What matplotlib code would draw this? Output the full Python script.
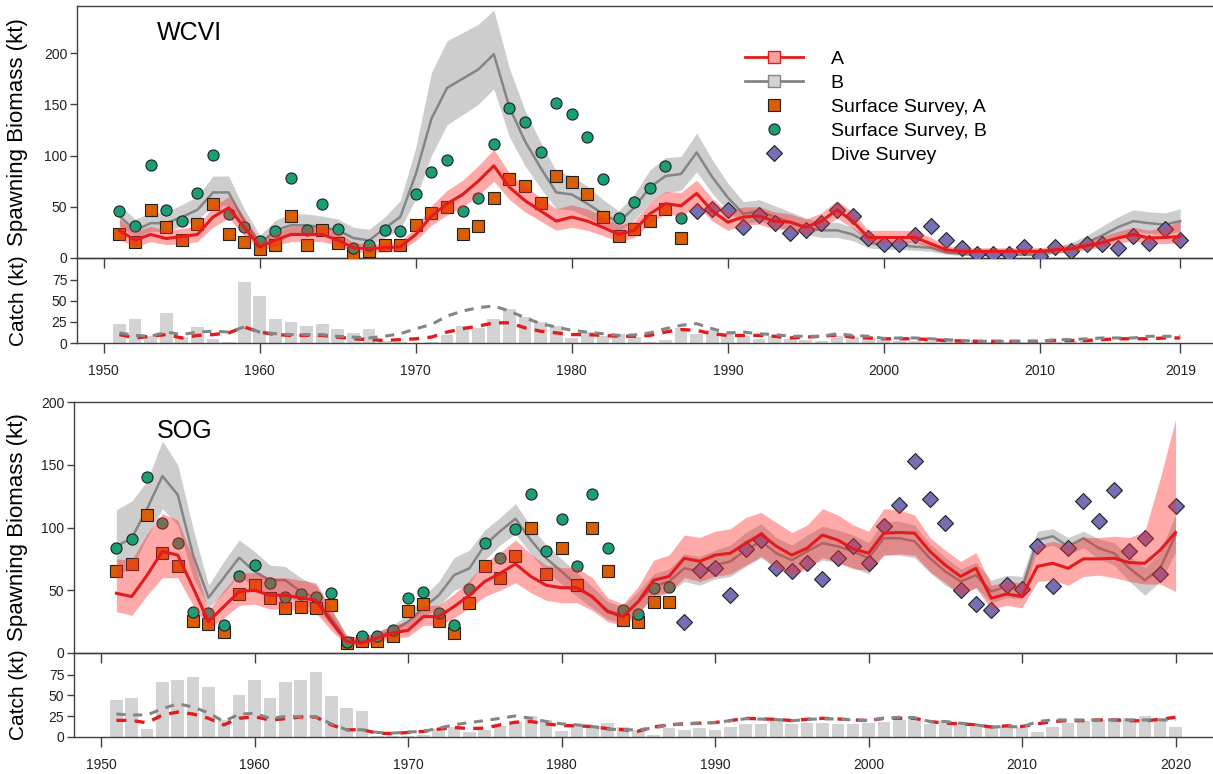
import matplotlib.pyplot as plt
from matplotlib.lines import Line2D

plt.rcParams['font.family'] = ['Liberation Sans', 'DejaVu Sans']

# ---------------- WCVI (1951-2019) ----------------
wcvi_years = list(range(1951, 2020))
wcvi_a_mid = [27, 17.5, 23, 19, 21, 23, 40, 49, 30, 11,
              17.5, 23, 23, 23, 17.5, 10, 9, 10, 11, 23,
              41, 53, 62, 75, 90, 69, 56, 46, 36, 40,
              36, 30, 23, 27, 43, 53, 51, 63, 46, 35,
              40, 41, 36, 35, 30, 36, 47, 36, 20, 20,
              20, 20, 14, 8, 6.5, 6.5, 6.5, 6.5, 6.5, 6.5,
              8, 9, 12, 15, 19.5, 23, 19.5, 20, 21]
wcvi_a_hi = [38, 26, 31, 27, 29, 31, 50, 60, 40, 17,
             25, 31, 31, 31, 25, 15, 14, 15, 16, 30,
             51, 66, 76, 90, 106, 83, 70, 59, 48, 52,
             48, 41, 32, 36, 54, 65, 64, 76, 58, 45,
             50, 50, 45, 43, 38, 44, 56, 45, 27, 27,
             27, 27, 20, 12, 10, 10, 10, 10, 10, 10,
             12, 13, 17, 21, 26, 30, 27, 30, 36]
wcvi_a_lo = [18, 11, 16, 13, 14, 16, 30, 39, 22, 7,
             12, 16, 16, 16, 12, 6, 5.5, 6, 7, 17,
             32, 42, 50, 61, 75, 57, 45, 36, 27, 30,
             27, 22, 16, 20, 34, 43, 41, 51, 36, 27,
             32, 33, 28, 28, 23, 29, 39, 29, 15, 15,
             15, 15, 10, 5, 4, 4, 4, 4, 4, 4,
             5, 6, 8, 11, 14, 17, 14, 14, 15]
wcvi_b_mid = [41, 27, 34, 34, 40, 47, 64, 64, 36, 14,
              27, 32, 32, 30, 27, 19.5, 17, 29, 40, 82,
              136, 166, 175, 184, 199, 147, 114, 88, 64, 62,
              53, 43, 35, 49, 69, 80, 82, 103, 79, 59,
              43, 46, 40, 35, 30, 27, 27, 23, 15, 12.7,
              12.7, 11, 10, 5.5, 4, 3.3, 3.3, 3.3, 3.3, 3.3,
              7, 10, 15, 22, 30, 36, 34, 32.5, 36]
wcvi_b_hi = [52, 38, 44, 45, 52, 60, 80, 80, 48, 22,
             37, 43, 43, 41, 38, 30, 28, 40, 56, 108,
             181, 212, 220, 228, 242, 185, 144, 113, 85, 80,
             70, 57, 46, 62, 86, 98, 99, 122, 96, 73,
             55, 57, 51, 45, 39, 35, 35, 30, 21, 18,
             18, 16, 14, 8.5, 6.5, 5.5, 5.5, 5.5, 5.5, 5.5,
             11, 15, 22, 31, 40, 47, 45, 44, 48]
wcvi_b_lo = [32, 20, 26, 26, 31, 37, 51, 51, 27, 9,
             20, 24, 24, 22, 20, 13, 11, 20, 28, 58,
             100, 130, 140, 150, 165, 118, 90, 68, 48, 47,
             40, 32, 26, 37, 54, 64, 66, 84, 63, 46,
             33, 36, 31, 27, 23, 20, 20, 17, 10, 8.5,
             8.5, 7.5, 6.5, 3.5, 2.5, 2, 2, 2, 2, 2,
             4.5, 6.5, 10, 15, 21, 26, 24, 23, 26]

wcvi_surf_years = list(range(1951, 1988))
wcvi_surf_a = [23, 16, 47, 30, 18, 33, 53, 23, 16, 9,
               13, 41, 13, 27, 15, 5, 6.5, 13, 13, 32,
               44, 50, 23, 31, 59, 77, 70, 54, 80, 74,
               62, 40, 21, 28, 36, 48, 20]
wcvi_surf_b = [45.5, 31, 91, 47, 36, 63, 101, 43, 30, 17,
               26, 78, 27, 53, 28, 9.5, 13, 27, 26, 62,
               84, 96, 45.5, 59, 111, 146, 133, 103, 151, 141,
               118, 77, 39, 55, 68, 90, 39]
wcvi_dive_years = list(range(1988, 2020))
wcvi_dive = [46, 48, 47, 30, 42, 34, 24.5, 27, 34, 47,
             41, 20, 13.6, 13.6, 22, 31.5, 17.5, 10, 4, 4,
             4, 11, 2, 11, 6.5, 14, 14, 10, 21, 15,
             28, 17.5]

wcvi_catch = [22.7, 29, 8, 35.5, 7, 19, 5, 1, 72, 56,
              28, 25, 20, 23, 17, 12, 17, 2, 1, 0.5,
              1, 9, 20, 18, 28, 40.7, 31, 25, 20, 6,
              13, 8, 10.8, 7, 1, 3, 18, 11, 16, 11,
              8, 5, 8, 5, 3, 2.5, 8, 7, 5, 3,
              2.5, 2.5, 2.5, 2.5, 4, 3, 1, 1, 1, 1,
              1, 2, 2, 0.5, 0.5, 0.5, 0.5, 0.5, 0.5]
wcvi_catch_a = [10, 6, 8, 10, 6, 9, 10, 12, 19, 13,
                10, 9, 9, 9, 7, 5, 4, 3, 4, 5,
                7, 13, 17, 20, 24, 24, 18, 14, 12, 10,
                10, 9, 8, 8, 9, 13, 16, 15, 11, 9,
                9, 9, 8, 6, 7, 8, 9.5, 7, 6, 5,
                5, 5, 4, 3, 2.4, 2, 2, 2, 2, 2,
                3, 3, 3, 4, 5, 5, 5, 6, 6]
wcvi_catch_b = [12, 9, 8, 13, 10, 13, 14, 13, 19, 13,
                11, 10, 10, 10, 8, 7, 6, 8, 11, 17,
                22, 32, 38, 42, 44, 38, 30, 23, 19, 15,
                13, 11, 9, 9.5, 12, 17, 21, 23, 17, 12,
                13, 11, 10, 8, 8, 8, 11, 9, 8, 5.5,
                6, 6, 5, 4, 3, 2, 2, 2, 2, 2,
                4, 4, 5, 6, 6, 6, 8, 8, 8]

# ---------------- SOG (1951-2020) ----------------
sog_years = list(range(1951, 2021))
sog_a_mid = [47.6, 45, 62, 81, 78, 52, 25, 37, 49, 50,
             46, 46, 44, 42, 25, 9, 8, 12, 16, 18,
             29, 29, 37, 46, 57, 63.5, 71, 61, 54, 52,
             52, 45, 33, 29, 41, 58, 61, 75.5, 73, 78,
             79.5, 87.5, 94.7, 85, 78, 83.5, 94, 90, 83, 79.5,
             95.5, 96, 95.5, 81, 70, 61, 67.5, 43.6, 47, 45,
             69, 71.5, 67.5, 75, 75, 75.5, 72, 71.5, 82, 96]
sog_a_hi = [75, 74, 95, 111, 106, 75, 34, 50, 64, 64,
            60, 60, 58, 56, 35, 14, 12, 17, 22, 25,
            38, 38, 47, 58, 72, 80, 90, 79, 70, 68,
            68, 60, 44, 39, 53, 74, 78, 94, 92, 97,
            99, 108, 112, 104, 96, 102, 115, 110, 102, 97,
            115, 114, 110, 92, 82, 73, 80, 54, 57, 56,
            86, 89, 86, 92, 92, 93, 92, 97, 139, 186]
sog_a_lo = [33, 30, 46, 60, 60, 38, 19, 28, 38, 39,
            35, 35, 34, 32, 18, 6, 5.5, 9, 12, 13,
            22, 22, 28, 36, 45, 50, 56, 48, 42, 40,
            40, 34, 25, 22, 31, 46, 48, 60, 57, 61,
            63, 70, 77, 68, 62, 67, 76, 72, 67, 66,
            78, 79, 78, 65, 56, 46, 52, 35, 38, 36,
            57, 58, 54, 61, 62, 60, 57, 55, 55, 49]
sog_b_mid = [85, 91.5, 115, 141, 126, 78, 44, 60, 76, 65,
             58, 58, 49, 44, 28, 10, 9, 13, 17.5, 25,
             36, 46, 62, 67.5, 86, 97, 107, 90, 75.5, 65,
             54, 44, 34, 30, 41, 53, 57, 67.5, 65, 70,
             73, 82, 89, 79.5, 74, 81, 87.5, 85, 81, 75.5,
             91.5, 91.5, 89, 75.5, 65, 57, 62, 49, 53, 51.6,
             90, 93, 85, 91.5, 83.5, 79.5, 67.5, 58, 67.5, 94]
sog_b_hi = [114, 121, 137, 169, 150, 99, 54, 73, 90, 81,
            70, 69, 60, 54, 35, 14, 12, 17, 22, 31,
            45, 57, 76, 82, 98, 108, 119, 101, 86, 75,
            64, 53, 41, 37, 49, 63, 67, 79, 77, 82,
            86, 96, 103, 92, 86, 94, 101, 98, 94, 88,
            105, 105, 102, 87, 76, 67, 72, 58, 62, 61,
            97, 99, 92, 97, 91, 88, 77, 68, 80, 110]
sog_b_lo = [62, 68, 92, 115, 102, 60, 36, 48, 62, 52,
            46, 47, 39, 35, 22, 7, 6.5, 10, 13.5, 20,
            28, 37, 50, 55, 74, 86, 95, 79, 65, 55,
            45, 36, 27, 24, 33, 44, 48, 57, 54, 59,
            61, 69, 76, 67, 62, 69, 74, 72, 68, 63,
            78, 78, 76, 64, 54, 47, 52, 40, 44, 43,
            83, 86, 78, 84, 75, 70, 57, 46, 57, 80]

sog_surf_years = list(range(1951, 1988))
sog_surf_a = [65, 71, 110, 80, 69, 25.5, 23, 17, 47, 54,
              44, 35.6, 37, 35.6, 38, 7.7, 9.6, 9.6, 13.5, 33.5,
              39, 25.5, 16, 40, 69, 60, 77, 100, 63, 84,
              54, 99.5, 65, 26, 25, 41, 41]
sog_surf_b = [84, 91, 140, 103.5, 88, 32.5, 31.6, 22, 61, 70,
              55.6, 45, 47, 45, 48, 9, 13.5, 13.5, 18, 43.6,
              49, 31.6, 22, 51, 88, 76, 98.7, 127, 81, 107,
              69, 126.6, 83.5, 34, 31, 52, 52.7]
sog_dive_years = list(range(1988, 2021))
sog_dive = [25, 66, 67.5, 46, 83, 90, 67.5, 65, 71.5, 59,
            75.5, 85, 72, 101, 118, 152.6, 123, 103.5, 50, 39,
            34, 54, 51, 85.6, 53, 83.5, 121, 105, 130, 81,
            92, 63, 117]

sog_catch = [44, 47, 10, 65.6, 68.7, 72, 60, 21, 50, 68.7,
             47, 65.6, 68.7, 78, 49, 34.8, 31.6, 1.5, 1, 1,
             2, 10, 12.6, 6, 8, 13.4, 18.6, 25.7, 21, 7.5,
             13.4, 14.6, 17.4, 12, 8.7, 2.8, 10.7, 8.7, 10.7, 8.7,
             12, 15.8, 15.8, 19.7, 15.8, 16.6, 17.4, 15.8, 15.8, 17.4,
             18.6, 20.5, 22.5, 15.8, 19.7, 17.4, 12, 10.7, 12, 10.3,
             5.5, 12, 16.6, 19.7, 21, 22.5, 22.5, 25.3, 22.5, 11.5]
sog_catch_a = [20, 20, 17, 26.5, 30, 27.6, 22.5, 14.6, 22.5, 24.5,
               20.5, 22, 24, 24, 14.6, 8.7, 8.7, 4.7, 4, 5.5,
               6.7, 9.5, 11.5, 10, 10.7, 14.6, 17.8, 18.6, 15.8, 13.8,
               13.4, 12.6, 10, 8.7, 7, 12, 14.6, 15.8, 16.6, 17.4,
               19.7, 22.5, 21.7, 21.3, 19.7, 21.3, 22.5, 21.7, 20.5, 19.7,
               22.5, 22.5, 22.5, 18.6, 16.6, 15.8, 14.6, 12, 13.4, 12.6,
               15.8, 18.6, 19.7, 19.7, 20.5, 20.5, 19.7, 19.3, 21.3, 23.7]
sog_catch_b = [27.6, 26.5, 26.5, 34, 40, 36, 29, 18.6, 27.6, 28.4,
               22.5, 24.5, 24.5, 24.5, 15.8, 8.7, 8.7, 5.5, 4.7, 6,
               6.7, 10.7, 14.6, 17.4, 19.7, 22.5, 25.3, 22.5, 18.6, 15.8,
               14.6, 12.6, 9.5, 8.7, 8.7, 10.7, 14.6, 15.8, 16.6, 17.4,
               19.7, 22, 21.5, 21, 19.5, 21, 22, 21.5, 20.5, 20,
               22.5, 23.7, 23.3, 18.6, 18.6, 16.6, 14.6, 12, 12.6, 12,
               18.6, 20.5, 20.5, 20.5, 20.5, 20.5, 20.5, 20.5, 20.5, 20.5]

RED = '#E41A1C'
GREY_LINE = '#858585'
GREY_BAND = '#CDCDCD'
SQ_COL = '#D95F02'
CIR_COL = '#1B9E77'
DIA_COL = '#7570B3'
AX_COL = '#404040'
W, H = 1213, 774


def styleAxes(ax):
    for s in ax.spines.values():
        s.set_color(AX_COL)
        s.set_linewidth(1.0)
    ax.tick_params(direction='out', length=5, width=1, color=AX_COL,
                   labelsize=10, labelcolor='#222222', pad=2)


def drawPanel(fig, left, bio_top, bio_bot, catch_bot, xlim, years, xticks, xticklabels,
              bio_ylim, a_mid, a_lo, a_hi, b_mid, b_lo, b_hi,
              surf_years, surf_a, surf_b, dive_years, dive,
              catch, catch_a, catch_b, title, title_xy, px_per_year, label_x):
    width = (xlim[1] - xlim[0]) * px_per_year / W
    axc = fig.add_axes([left / W, 1 - catch_bot / H, width, (catch_bot - bio_bot) / H])
    ax = fig.add_axes([left / W, 1 - bio_bot / H, width, (bio_bot - bio_top) / H])
    ax.set_zorder(3)
    ax.patch.set_alpha(0)

    # biomass panel
    ax.fill_between(years, b_lo, b_hi, color=GREY_BAND, lw=0, zorder=1)
    ax.plot(years, b_mid, color=GREY_LINE, lw=1.8, zorder=2)
    ax.plot(surf_years, surf_a, 's', ms=8, mfc=SQ_COL, mec='#202020', mew=0.8, zorder=3)
    ax.plot(surf_years, surf_b, 'o', ms=8, mfc=CIR_COL, mec='#202020', mew=0.8, zorder=3)
    ax.plot(dive_years, dive, 'D', ms=8, mfc=DIA_COL, mec='#202020', mew=0.8, zorder=3)
    ax.fill_between(years, a_lo, a_hi, color='#FF2A2A', alpha=0.4, lw=0, zorder=4)
    ax.plot(years, a_mid, color=RED, lw=2.2, zorder=5)
    ax.set_xlim(xlim)
    ax.set_ylim(bio_ylim)
    ax.set_yticks([0, 50, 100, 150, 200])
    ax.set_xticks(xticks)
    styleAxes(ax)
    ax.tick_params(axis='x', labelbottom=False, length=7)
    ax.set_ylabel('Spawning Biomass (kt)', fontsize=16)
    ax.yaxis.set_label_coords(label_x, 0.5)
    ax.text(title_xy[0], title_xy[1], title, fontsize=18, ha='left', va='center')

    # catch panel
    axc.bar(years, catch, width=0.82, color='#D3D3D3', lw=0, zorder=1)
    axc.plot(years, catch_a, color=RED, lw=2.4, ls=(0, (3, 2.5)), zorder=2)
    axc.plot(years, catch_b, color=GREY_LINE, lw=2.2, ls=(0, (3, 2.5)), zorder=3)
    axc.set_xlim(xlim)
    axc.set_ylim(0, 101)
    axc.set_yticks([0, 25, 50, 75])
    axc.set_xticks(xticks)
    axc.set_xticklabels(xticklabels)
    styleAxes(axc)
    axc.tick_params(axis='x', length=7, pad=8)
    axc.set_ylabel('Catch (kt)', fontsize=15)
    axc.yaxis.set_label_coords(label_x, 0.5)
    return ax, axc


fig = plt.figure(figsize=(W / 100, H / 100), dpi=100)

top_ticks = [1950, 1960, 1970, 1980, 1990, 2000, 2010, 2019]
ax1, axc1 = drawPanel(fig, 77, 6, 258, 343, (1948.28, 2021.72), wcvi_years,
                      top_ticks, [str(t) for t in top_ticks], (0, 246),
                      wcvi_a_mid, wcvi_a_lo, wcvi_a_hi, wcvi_b_mid, wcvi_b_lo, wcvi_b_hi,
                      wcvi_surf_years, wcvi_surf_a, wcvi_surf_b, wcvi_dive_years, wcvi_dive,
                      wcvi_catch, wcvi_catch_a, wcvi_catch_b, 'WCVI', (1953.4, 220),
                      15.6, -0.043)

bot_ticks = [1950, 1960, 1970, 1980, 1990, 2000, 2010, 2020]
ax2, axc2 = drawPanel(fig, 74, 402, 653, 737, (1948.24, 2022.76), sog_years,
                      bot_ticks, [str(t) for t in bot_ticks], (0, 200),
                      sog_a_mid, sog_a_lo, sog_a_hi, sog_b_mid, sog_b_lo, sog_b_hi,
                      sog_surf_years, sog_surf_a, sog_surf_b, sog_dive_years, sog_dive,
                      sog_catch, sog_catch_a, sog_catch_b, 'SOG', (1953.65, 177),
                      15.35, -0.040)

handles = [
    Line2D([], [], color=RED, lw=2, marker='s', ms=8, mfc='#F7A1A1', mec=RED, mew=1),
    Line2D([], [], color=GREY_LINE, lw=2, marker='s', ms=8, mfc='#D3D3D3', mec=GREY_LINE, mew=1),
    Line2D([], [], ls='none', marker='s', ms=8, mfc=SQ_COL, mec='#202020', mew=0.8),
    Line2D([], [], ls='none', marker='o', ms=8, mfc=CIR_COL, mec='#202020', mew=0.8),
    Line2D([], [], ls='none', marker='D', ms=8, mfc=DIA_COL, mec='#202020', mew=0.8),
]
labels = ['A', 'B', 'Surface Survey, A', 'Surface Survey, B', 'Dive Survey']
leg = fig.legend(handles, labels, loc='upper left', bbox_to_anchor=(745 / W, 1 - 50 / H),
                 frameon=False, fontsize=14, handlelength=3.0, handletextpad=1.4,
                 labelspacing=0.33, borderpad=0, borderaxespad=0)
leg.set_zorder(10)

fig.savefig('out.png', dpi=100)
